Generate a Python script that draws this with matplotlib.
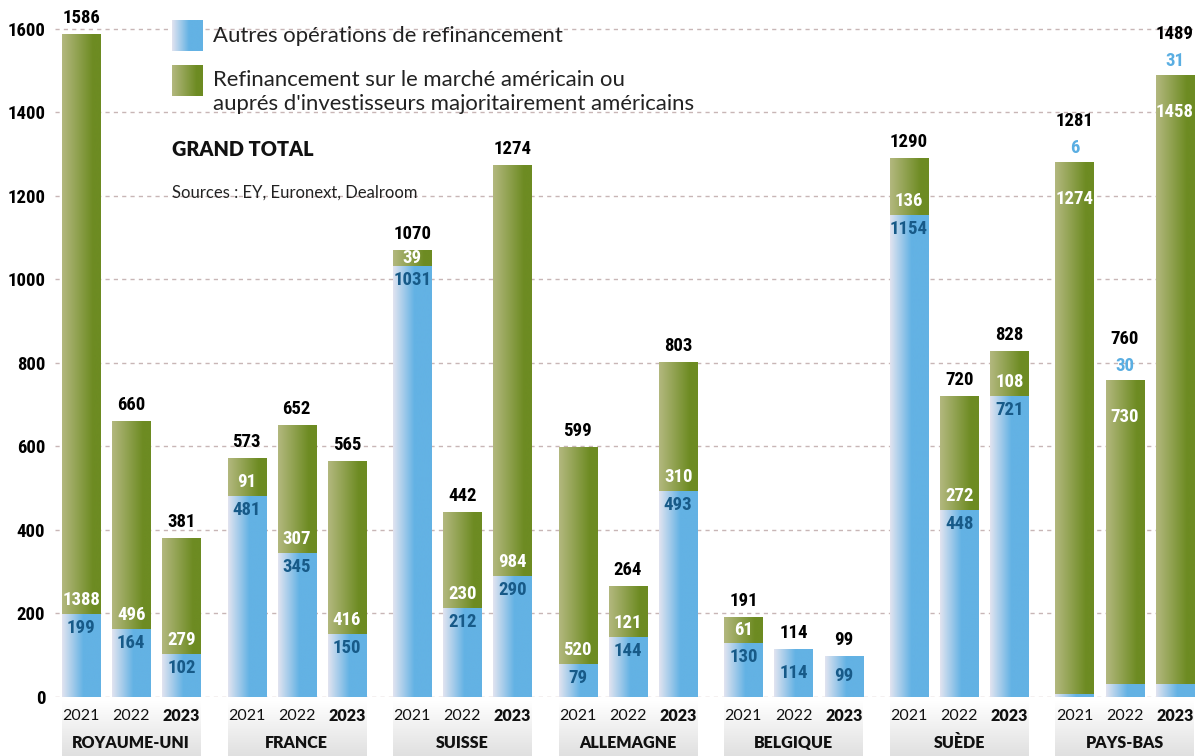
import numpy as np
import matplotlib
matplotlib.use("Agg")
import matplotlib.pyplot as plt
from matplotlib import font_manager
from matplotlib.colors import to_rgb

# ---- data -------------------------------------------------------------
countries = ["ROYAUME-UNI", "FRANCE", "SUISSE", "ALLEMAGNE", "BELGIQUE", "SUÈDE", "PAYS-BAS"]
years = ["2021", "2022", "2023"]
autres = [[199, 164, 102], [481, 345, 150], [1031, 212, 290], [79, 144, 493],
          [130, 114, 99], [1154, 448, 721], [6, 30, 31]]
marche_us = [[1388, 496, 279], [91, 307, 416], [39, 230, 984], [520, 121, 310],
             [61, 0, 0], [136, 272, 108], [1274, 730, 1458]]
totals = [[1586, 660, 381], [573, 652, 565], [1070, 442, 1274], [599, 264, 803],
          [191, 114, 99], [1290, 720, 828], [1281, 760, 1489]]
yticks = [0, 200, 400, 600, 800, 1000, 1200, 1400, 1600]


def pick(*names):
    for n in names:
        try:
            font_manager.findfont(font_manager.FontProperties(family=n),
                                  fallback_to_default=False)
            return n
        except ValueError:
            pass
    return "DejaVu Sans"


NARROW = pick("Liberation Sans Narrow", "Roboto Condensed", "Roboto")
NUM_SIZE = 13.5 if NARROW != "Roboto" else 11.5
TEXT = pick("Lato", "Open Sans")

BLUE_L, BLUE_R = np.array(to_rgb("#e2e4f0")), np.array(to_rgb("#63b2e4"))
GREEN_L, GREEN_R = np.array(to_rgb("#b3b87f")), np.array(to_rgb("#6d8b22"))
BLUE_TXT = "#175a88"
LIGHT_BLUE_TXT = "#5aaee2"
GRID = "#c8b6b6"


def hgrad(c0, c1, ramp_end):
    t = np.clip(np.linspace(0, 1, 200) / ramp_end, 0, 1)[:, None]
    return (c0 * (1 - t) + c1 * t)[None, :, :]


BLUE_IMG = hgrad(BLUE_L, BLUE_R, 0.55)
GREEN_IMG = hgrad(GREEN_L, GREEN_R, 0.8)

W, H = 1195, 756
fig = plt.figure(figsize=(W / 100, H / 100), dpi=100)
PX = 697 / 1669  # pixels per value unit

ax = fig.add_axes([55 / W, 59 / H, 1140 / W, 697 / H])
XMIN, XMAX = -0.518, 22.2
GROUP_STEP = 3.3
BAR_W = 0.76


def fill_gradient(a, patches, img):
    for p in patches:
        if p.get_height() <= 0:
            continue
        x0, y0 = p.get_x(), p.get_y()
        im = a.imshow(img, extent=[x0, x0 + p.get_width(), y0, y0 + p.get_height()],
                      aspect="auto", interpolation="bilinear", zorder=2)
        im.set_clip_path(p)


for g, country in enumerate(countries):
    xs = [g * GROUP_STEP + j for j in range(3)]
    b = autres[g]
    u = marche_us[g]
    pb = ax.bar(xs, b, width=BAR_W, facecolor="none", edgecolor="none", zorder=2)
    pu = ax.bar(xs, u, bottom=b, width=BAR_W, facecolor="none", edgecolor="none", zorder=2)
    fill_gradient(ax, pb, BLUE_IMG)
    fill_gradient(ax, pu, GREEN_IMG)

    for j, x in enumerate(xs):
        top = b[j] + u[j]
        num = dict(ha="center", va="center", family=NARROW, fontweight="bold",
                   fontsize=NUM_SIZE, textcoords="offset pixels", zorder=5)
        if b[j] < 50:
            # tiny first segment: its value sits above the bar
            ax.annotate(str(b[j]), (x, top), xytext=(0, 14), color=LIGHT_BLUE_TXT, **num)
            ax.annotate(str(totals[g][j]), (x, top), xytext=(0, 41), color="black", **num)
            ax.annotate(str(u[j]), (x, top), xytext=(0, -37), color="white", **num)
            continue
        ax.annotate(str(totals[g][j]), (x, top), xytext=(0, 16), color="black", **num)
        if u[j] == 0:
            ax.annotate(str(b[j]), (x, b[j] / 2), xytext=(0, 0), color=BLUE_TXT, **num)
        else:
            ax.annotate(str(b[j]), (x, b[j]), xytext=(0, -14), color=BLUE_TXT, **num)
            off = min(14, u[j] * PX / 2)
            ax.annotate(str(u[j]), (x, b[j]), xytext=(0, off), color="white", **num)

ax.set_xlim(XMIN, XMAX)
ax.set_ylim(0, 1669)
ax.set_yticks(yticks)
ax.set_yticklabels([str(v) for v in yticks], family=NARROW, fontweight="bold",
                   fontsize=NUM_SIZE)
ax.tick_params(axis="y", length=0, pad=7)
ax.set_xticks([])
for s in ax.spines.values():
    s.set_visible(False)
ax.set_axisbelow(True)
ax.yaxis.grid(True, color=GRID, linestyle=(0, (3, 3)), linewidth=1)
ax.patch.set_alpha(0)

# ---- category strip ----------------------------------------------------
bax = fig.add_axes([55 / W, 0, 1140 / W, 59 / H])
bax.set_xlim(XMIN, XMAX)
bax.set_ylim(0, 1)
bax.axis("off")
vt = np.linspace(0, 1, 100)[:, None]
strip = (np.array(to_rgb("#ffffff")) * (1 - vt) + np.array(to_rgb("#e0e0e0")) * vt)[:, None, :]
for g, country in enumerate(countries):
    x0 = g * GROUP_STEP - BAR_W / 2
    x1 = g * GROUP_STEP + 2 + BAR_W / 2
    bax.imshow(strip, extent=[x0, x1, 0, 0.93], aspect="auto",
               interpolation="bilinear", zorder=1)
    for j, yr in enumerate(years):
        bax.text(g * GROUP_STEP + j, 0.68, yr, ha="center", va="center", family=TEXT,
                 fontsize=11.5, fontweight="heavy" if j == 2 else "normal",
                 color="#111111", zorder=3)
    bax.text(g * GROUP_STEP + 1, 0.22, country, ha="center", va="center", family=TEXT,
             fontsize=11.5, fontweight="heavy", color="#111111", zorder=3)
bax.set_xlim(XMIN, XMAX)
bax.set_ylim(0, 1)

# ---- legend and headings ----------------------------------------------
oax = fig.add_axes([0, 0, 1, 1])
oax.set_xlim(0, W)
oax.set_ylim(H, 0)
oax.axis("off")
oax.imshow(hgrad(BLUE_L, BLUE_R, 0.55), extent=[172, 203, 51, 20], aspect="auto",
           interpolation="bilinear")
oax.imshow(hgrad(GREEN_L, GREEN_R, 0.8), extent=[172, 203, 96, 65], aspect="auto",
           interpolation="bilinear")
oax.set_xlim(0, W)
oax.set_ylim(H, 0)
oax.text(213, 36, "Autres opérations de refinancement", ha="left", va="center",
         family=TEXT, fontsize=15.9, color="#222222")
oax.text(213, 92, "Refinancement sur le marché américain ou\n"
         "auprés d'investisseurs majoritairement américains",
         ha="left", va="center", family=TEXT, fontsize=15.9, color="#222222",
         linespacing=1.22)
oax.text(172, 150, "GRAND TOTAL", ha="left", va="center", family=TEXT,
         fontsize=14.3, fontweight="heavy", color="#111111")
oax.text(172, 193, "Sources : EY, Euronext, Dealroom", ha="left", va="center",
         family=TEXT, fontsize=12, color="#222222")

fig.savefig("out.png", dpi=100)
